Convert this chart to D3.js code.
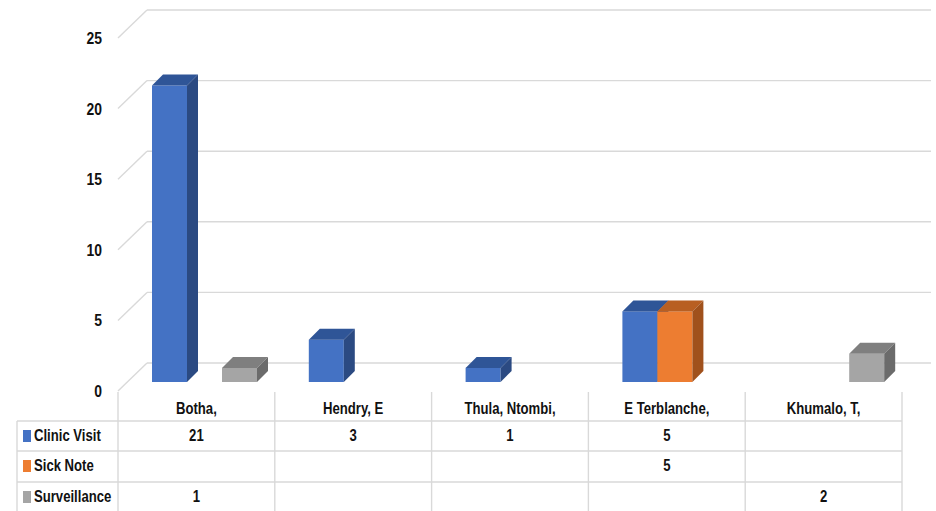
<!DOCTYPE html>
<html>
<head>
<meta charset="utf-8">
<script src="https://cdn.jsdelivr.net/npm/d3@7/dist/d3.min.js"></script>
<style>
  html, body { margin: 0; padding: 0; background: #fff; }
  svg { display: block; }
  text { font-family: "Liberation Sans", Arial, sans-serif; font-weight: bold; fill: #111; }
</style>
</head>
<body>
<svg id="chart" width="936" height="511"></svg>
<script>
const categories = ["Botha,", "Hendry, E", "Thula, Ntombi,", "E Terblanche,", "Khumalo, T,"];
const seriesNames = ["Clinic Visit", "Sick Note", "Surveillance"];
const clinicVisit = [21, 3, 1, 5, null];
const sickNote = [null, null, null, 5, null];
const surveillance = [1, null, null, null, 2];
const tickValues = [0, 5, 10, 15, 20, 25];

const seriesValues = [clinicVisit, sickNote, surveillance];
const colors = [
  { front: "#4472C4", top: "#2F5597", side: "#2B4A82" },
  { front: "#ED7D31", top: "#B85F22", side: "#A0511C" },
  { front: "#A5A5A5", top: "#7F7F7F", side: "#6B6B6B" }
];

const svg = d3.select("#chart");

// Layout
const plotLeft = 118, plotRight = 902;
const depthX = 29, depthY = -28;        // floor depth vector
const backRight = 931;
const y = d3.scaleLinear().domain([0, 25]).range([391, 38]); // front plane
const x = d3.scaleBand().domain(categories).range([plotLeft, plotRight]).padding(0);

const SX = 0.82, FS = 16;
function label(g, tx, ty, str, anchor, size) {
  g.append("text")
    .attr("transform", `translate(${tx},${ty}) scale(${SX},1)`)
    .attr("x", 0).attr("y", 0)
    .attr("text-anchor", anchor || "start")
    .attr("dominant-baseline", "central")
    .attr("font-size", size || FS)
    .text(str);
}

const grid = svg.append("g");
tickValues.forEach(t => {
  const fy = y(t);
  grid.append("line")
    .attr("x1", plotLeft).attr("y1", fy)
    .attr("x2", plotLeft + depthX).attr("y2", fy + depthY)
    .attr("stroke", "#d9d9d9").attr("stroke-width", 1.4);
  grid.append("line")
    .attr("x1", plotLeft + depthX).attr("y1", fy + depthY)
    .attr("x2", backRight).attr("y2", fy + depthY)
    .attr("stroke", "#d9d9d9").attr("stroke-width", 1.4);
  label(grid, 102, fy, t, "end", 17);
});

// Bars (3D)
const barW = 35, barOffset = 34, barShift = 9, bd = 11;
const bars = svg.append("g");
categories.forEach((c, ci) => {
  seriesValues.forEach((vals, si) => {
    const v = vals[ci];
    if (v === null || v === undefined) return;
    const x0 = x(c) + barOffset + si * barW;
    const x1 = x0 + barW;
    const yb = y(0) - barShift;
    const yt = y(v) - barShift;
    const col = colors[si];
    bars.append("rect")
      .attr("x", x0).attr("y", yt).attr("width", barW).attr("height", yb - yt)
      .attr("fill", col.front);
    bars.append("path")
      .attr("d", `M${x0},${yt} L${x0 + bd},${yt - bd} L${x1 + bd},${yt - bd} L${x1},${yt} Z`)
      .attr("fill", col.top);
    bars.append("path")
      .attr("d", `M${x1},${yt} L${x1 + bd},${yt - bd} L${x1 + bd},${yb - bd} L${x1},${yb} Z`)
      .attr("fill", col.side);
  });
});

// Data table
const tbl = svg.append("g");
const tableTop = 392, rowTops = [421, 451, 482], tableBottom = 512, legendLeft = 17;
const lineColor = "#d9d9d9";
categories.forEach(c => {
  tbl.append("line")
    .attr("x1", x(c)).attr("x2", x(c))
    .attr("y1", tableTop).attr("y2", tableBottom)
    .attr("stroke", lineColor).attr("stroke-width", 1.4);
});
tbl.append("line")
  .attr("x1", plotRight).attr("x2", plotRight)
  .attr("y1", tableTop).attr("y2", tableBottom)
  .attr("stroke", lineColor).attr("stroke-width", 1.4);
tbl.append("line")
  .attr("x1", legendLeft).attr("x2", legendLeft)
  .attr("y1", rowTops[0]).attr("y2", tableBottom)
  .attr("stroke", lineColor).attr("stroke-width", 1.4);
rowTops.forEach(ry => {
  tbl.append("line")
    .attr("x1", legendLeft).attr("x2", plotRight)
    .attr("y1", ry).attr("y2", ry)
    .attr("stroke", lineColor).attr("stroke-width", 1.4);
});

categories.forEach(c => {
  label(tbl, x(c) + x.bandwidth() / 2, 409, c, "middle");
});

const rowCenters = [436, 466, 497];
seriesNames.forEach((name, si) => {
  const cy = rowCenters[si];
  tbl.append("rect")
    .attr("x", 23).attr("y", cy - 6).attr("width", 8).attr("height", 12)
    .attr("fill", colors[si].front);
  label(tbl, 34, cy, name, "start");
  seriesValues[si].forEach((v, ci) => {
    if (v === null || v === undefined) return;
    label(tbl, x(categories[ci]) + x.bandwidth() / 2, cy, v, "middle");
  });
});
</script>
</body>
</html>
